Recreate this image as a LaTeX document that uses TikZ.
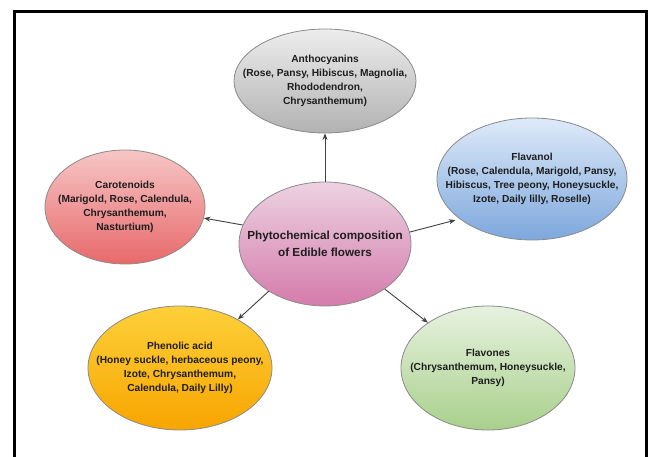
\documentclass[tikz,border=0pt]{standalone}
\usepackage{fontspec}
\setmainfont{Liberation Sans}
\usetikzlibrary{shapes.geometric,arrows.meta}
\definecolor{txtc}{HTML}{1E1E1E}
\definecolor{edgec}{HTML}{8A8A8A}
\definecolor{arrc}{HTML}{404040}
\definecolor{antT}{HTML}{EDEDED}\definecolor{antB}{HTML}{B2B2B2}
\definecolor{cenT}{HTML}{EDD2E2}\definecolor{cenB}{HTML}{D47BAB}
\definecolor{carT}{HTML}{F7C6C6}\definecolor{carB}{HTML}{E8696A}
\definecolor{flaT}{HTML}{DEEAF9}\definecolor{flaB}{HTML}{7DA7DC}
\definecolor{phenT}{HTML}{FDD03A}\definecolor{phenB}{HTML}{F8A500}
\definecolor{fvnT}{HTML}{E7F2DF}\definecolor{fvnB}{HTML}{A8D08C}
\tikzset{
  bub/.style={ellipse, draw=edgec, line width=0.8pt, inner sep=0pt},
  bubtxt/.style={align=center, text=txtc, font=\bfseries\fontsize{10.2}{14}\selectfont, inner sep=0pt},
  centxt/.style={align=center, text=txtc, font=\bfseries\fontsize{11.7}{16.5}\selectfont, inner sep=0pt},
  conn/.style={draw=arrc, line width=0.9pt, -{Stealth[length=6.5pt,width=5pt]}},
  framec/.style={line width=3pt, black}
}
\begin{document}
\begin{tikzpicture}[x=1pt,y=-1pt]
\useasboundingbox (0,0) rectangle (649,457);
\draw[framec] (14,470) -- (14,11.5) -- (646,11.5) -- (646,470);

\node[bub, top color=antT, bottom color=antB, minimum width=182pt, minimum height=104pt] (ant) at (325,81) {};
\node[bubtxt] at (ant.center) {Anthocyanins\\(Rose, Pansy, Hibiscus, Magnolia,\\Rhododendron,\\Chrysanthemum)};

\node[bub, top color=cenT, bottom color=cenB, minimum width=172pt, minimum height=124pt] (cen) at (325,244) {};
\node[centxt] at (cen.center) {Phytochemical composition\\of Edible flowers};

\node[bub, top color=carT, bottom color=carB, minimum width=160pt, minimum height=114pt] (car) at (125,207) {};
\node[bubtxt] at (car.center) {Carotenoids\\(Marigold, Rose, Calendula,\\Chrysanthemum,\\Nasturtium)};

\node[bub, top color=flaT, bottom color=flaB, minimum width=190pt, minimum height=122pt] (fla) at (532,179) {};
\node[bubtxt] at (fla.center) {Flavanol\\(Rose, Calendula, Marigold, Pansy,\\Hibiscus, Tree peony, Honeysuckle,\\Izote, Daily lilly, Roselle)};

\node[bub, top color=phenT, bottom color=phenB, minimum width=184pt, minimum height=124pt] (phen) at (180,368) {};
\node[bubtxt] at (phen.center) {Phenolic acid\\(Honey suckle, herbaceous peony,\\Izote, Chrysanthemum,\\Calendula, Daily Lilly)};

\node[bub, top color=fvnT, bottom color=fvnB, minimum width=174pt, minimum height=124pt] (fvn) at (488,368) {};
\node[bubtxt] at (fvn.center) {Flavones\\(Chrysanthemum, Honeysuckle,\\Pansy)};

\draw[conn] (cen.north) -- (ant.south);
\draw[conn] (cen.167) -- (car.-8);
\draw[conn] (cen.8) -- ([shift={(-3pt,-2pt)}]fla.208);
\draw[conn] (cen.220) -- (phen.40);
\draw[conn] (cen.-37) -- (fvn.143);
\end{tikzpicture}
\end{document}
